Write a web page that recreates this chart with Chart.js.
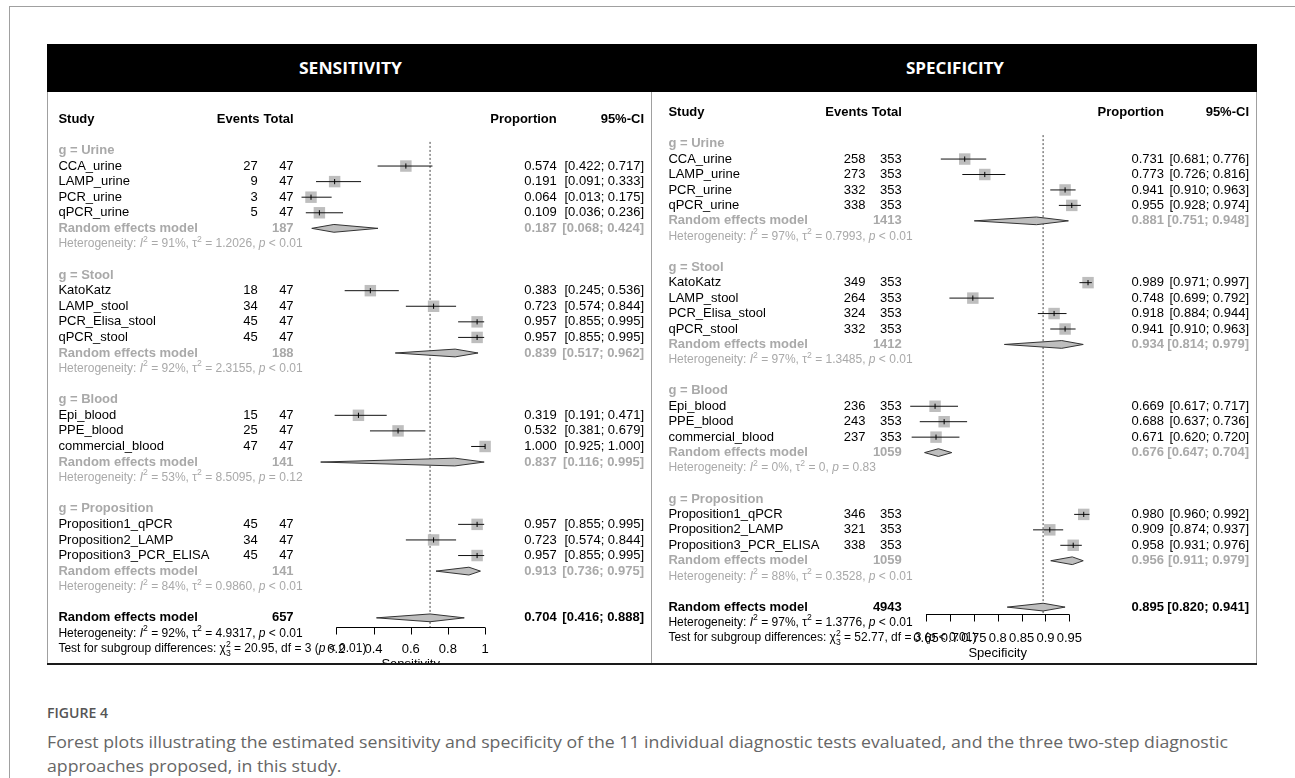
<!DOCTYPE html>
<html>
<head>
<meta charset="utf-8">
<title>Figure 4 - forest plots</title>
<script src="https://cdn.jsdelivr.net/npm/chart.js@4.4.1/dist/chart.umd.min.js"></script>
<style>
  body { margin: 0; background: #fff; }
  #page { position: relative; width: 1295px; height: 778px; overflow: hidden; }
  .rule { position: absolute; background: #a0a0a0; }
  #bar { position: absolute; left: 47px; top: 44px; width: 1210px; height: 48px; background: #000; }
  .head { position: absolute; top: 0; font: bold 16px "Open Sans"; line-height: 48px; color: #fff; white-space: nowrap; transform-origin: left center; }
  canvas { position: absolute; top: 92px; }
  .cap { position: absolute; left: 47px; white-space: nowrap; color: #666; font: 17px "Open Sans"; transform-origin: left top; }
</style>
</head>
<body>
<div id="page">
  <div class="rule" style="left:9px;top:6px;width:1286px;height:1px"></div>
  <div class="rule" style="left:9px;top:6px;width:1px;height:772px"></div>
  <div id="bar"><span class="head" id="h1">SENSITIVITY</span><span class="head" id="h2">SPECIFICITY</span></div>
  <canvas id="sens" width="604" height="572" style="left:47px"></canvas>
  <canvas id="spec" width="606" height="572" style="left:651px"></canvas>
  <div class="rule" style="left:47px;top:92px;width:1px;height:572px"></div>
  <div class="rule" style="left:651px;top:92px;width:1px;height:572px"></div>
  <div class="rule" style="left:1256px;top:92px;width:1px;height:572px"></div>
  <div class="rule" style="left:47px;top:663px;width:1210px;height:2px;background:#1a1a1a"></div>
  <div class="cap" id="figlabel" style="top:703px;font-size:14px;font-weight:600;color:#555">FIGURE 4</div>
  <div class="cap" id="cap1" style="top:730px">Forest plots illustrating the estimated sensitivity and specificity of the 11 individual diagnostic tests evaluated, and the three two-step diagnostic</div>
  <div class="cap" id="cap2" style="top:754px">approaches proposed, in this study.</div>
</div>

<script>
// ---- data ----
const groupNames = ['Urine', 'Stool', 'Blood', 'Proposition'];
const studyNames = [
  ['CCA_urine', 'LAMP_urine', 'PCR_urine', 'qPCR_urine'],
  ['KatoKatz', 'LAMP_stool', 'PCR_Elisa_stool', 'qPCR_stool'],
  ['Epi_blood', 'PPE_blood', 'commercial_blood'],
  ['Proposition1_qPCR', 'Proposition2_LAMP', 'Proposition3_PCR_ELISA']
];

// sensitivity
const sensEvents = [[27, 9, 3, 5], [18, 34, 45, 45], [15, 25, 47], [45, 34, 45]];
const sensTotals = [[47, 47, 47, 47], [47, 47, 47, 47], [47, 47, 47], [47, 47, 47]];
const sensProp = [[0.574, 0.191, 0.064, 0.109], [0.383, 0.723, 0.957, 0.957], [0.319, 0.532, 1.000], [0.957, 0.723, 0.957]];
const sensLower = [[0.422, 0.091, 0.013, 0.036], [0.245, 0.574, 0.855, 0.855], [0.191, 0.381, 0.925], [0.855, 0.574, 0.855]];
const sensUpper = [[0.717, 0.333, 0.175, 0.236], [0.536, 0.844, 0.995, 0.995], [0.471, 0.679, 1.000], [0.995, 0.844, 0.995]];
const sensGroupN = [187, 188, 141, 141];
const sensGroupProp = [0.187, 0.839, 0.837, 0.913];
const sensGroupLower = [0.068, 0.517, 0.116, 0.736];
const sensGroupUpper = [0.424, 0.962, 0.995, 0.975];
const sensGroupI2 = ['91%', '92%', '53%', '84%'];
const sensGroupTau2 = ['1.2026', '2.3155', '8.5095', '0.9860'];
const sensGroupP = ['< 0.01', '< 0.01', '= 0.12', '< 0.01'];
const sensOverall = [0.704, 0.416, 0.888];
const sensOverallN = 657;
const sensOverallHet = ['92%', '4.9317', '< 0.01'];
const sensTest = ['20.95', '3', '< 0.01'];
const sensTicks = [0.2, 0.4, 0.6, 0.8, 1];

// specificity
const specEvents = [[258, 273, 332, 338], [349, 264, 324, 332], [236, 243, 237], [346, 321, 338]];
const specTotals = [[353, 353, 353, 353], [353, 353, 353, 353], [353, 353, 353], [353, 353, 353]];
const specProp = [[0.731, 0.773, 0.941, 0.955], [0.989, 0.748, 0.918, 0.941], [0.669, 0.688, 0.671], [0.980, 0.909, 0.958]];
const specLower = [[0.681, 0.726, 0.910, 0.928], [0.971, 0.699, 0.884, 0.910], [0.617, 0.637, 0.620], [0.960, 0.874, 0.931]];
const specUpper = [[0.776, 0.816, 0.963, 0.974], [0.997, 0.792, 0.944, 0.963], [0.717, 0.736, 0.720], [0.992, 0.937, 0.976]];
const specGroupN = [1413, 1412, 1059, 1059];
const specGroupProp = [0.881, 0.934, 0.676, 0.956];
const specGroupLower = [0.751, 0.814, 0.647, 0.911];
const specGroupUpper = [0.948, 0.979, 0.704, 0.979];
const specGroupI2 = ['97%', '97%', '0%', '88%'];
const specGroupTau2 = ['0.7993', '1.3485', '0', '0.3528'];
const specGroupP = ['< 0.01', '< 0.01', '= 0.83', '< 0.01'];
const specOverall = [0.895, 0.820, 0.941];
const specOverallN = 4943;
const specOverallHet = ['97%', '1.3776', '< 0.01'];
const specTest = ['52.77', '3', '< 0.01'];
const specTicks = [0.65, 0.7, 0.75, 0.8, 0.85, 0.9, 0.95];

// ---- drawing ----
const GRAY = '#a9a9a9';
const FONT = '"Liberation Sans", Arial, sans-serif';

function fmt(v) { return v.toFixed(3); }
function ciText(lo, hi) { return '[' + fmt(lo) + '; ' + fmt(hi) + ']'; }

function drawRich(ctx, x, y, parts, size, color) {
  ctx.fillStyle = color;
  ctx.textAlign = 'left';
  ctx.textBaseline = 'middle';
  parts.forEach(([txt, mode]) => {
    if (mode === 'supsub') {
      ctx.font = (size * 0.72) + 'px ' + FONT;
      ctx.fillText(txt[0], x, y - size * 0.38);
      ctx.fillText(txt[1], x, y + size * 0.36);
      x += Math.max(ctx.measureText(txt[0]).width, ctx.measureText(txt[1]).width);
      return;
    }
    let font = size + 'px ' + FONT, dy = 0;
    if (mode === 'i') font = 'italic ' + font;
    if (mode === 'sup') { font = (size * 0.72) + 'px ' + FONT; dy = -size * 0.38; }
    ctx.font = font;
    ctx.fillText(txt, x, y + dy);
    x += ctx.measureText(txt).width;
  });
}

function hetParts(h) {
  return [['Heterogeneity: ', ''], ['I', 'i'], ['2', 'sup'], [' = ' + h[0] + ', ', ''],
          ['\u03c4', ''], ['2', 'sup'], [' = ' + h[1] + ', ', ''], ['p', 'i'], [' ' + h[2], '']];
}

function forestPanel(canvasId, d, lay) {
  const rows = [];
  const boxes = [];
  const ciLines = [];
  const diamonds = [];
  let k = 2;
  groupNames.forEach((g, gi) => {
    rows.push({ k: k++, type: 'group', label: 'g = ' + g });
    studyNames[gi].forEach((name, si) => {
      const est = d.prop[gi][si], lo = d.lower[gi][si], hi = d.upper[gi][si];
      rows.push({ k, type: 'study', label: name, ev: d.events[gi][si], n: d.totals[gi][si], est, lo, hi });
      boxes.push({ x: est, y: k });
      ciLines.push([{ x: lo, y: k }, { x: hi, y: k }]);
      k++;
    });
    const est = d.groupProp[gi], lo = d.groupLower[gi], hi = d.groupUpper[gi];
    rows.push({ k, type: 'pooled', n: d.groupN[gi], est, lo, hi });
    diamonds.push({ k, est, lo, hi });
    k++;
    rows.push({ k: k++, type: 'het', het: [d.groupI2[gi], d.groupTau2[gi], d.groupP[gi]] });
    k++;
  });
  const overallRow = k;
  const [oEst, oLo, oHi] = d.overall;
  rows.push({ k, type: 'overall', n: d.overallN, est: oEst, lo: oLo, hi: oHi });
  diamonds.push({ k, est: oEst, lo: oLo, hi: oHi });
  rows.push({ k: k + 1, type: 'overallHet', het: d.overallHet });
  rows.push({ k: k + 2, type: 'test', test: d.test });

  const datasets = [];
  // first datasets are drawn on top
  datasets.push({ data: boxes, showLine: false, pointStyle: 'line', pointRotation: 90,
                  pointRadius: 2.6, pointBorderColor: '#000', pointBorderWidth: 1 });
  ciLines.forEach(l => datasets.push({ data: l, borderColor: '#111', borderWidth: 1 }));
  datasets.push({ data: boxes, showLine: false, pointStyle: 'rect', pointRadius: 8.1,
                  pointBackgroundColor: '#bebebe', pointBorderWidth: 0 });
  diamonds.forEach(m => datasets.push({
    data: [{ x: m.lo, y: m.k }, { x: m.est, y: m.k - 0.25 }, { x: m.hi, y: m.k },
           { x: m.est, y: m.k + 0.25 }, { x: m.lo, y: m.k }],
    borderColor: '#333', borderWidth: 1, backgroundColor: '#bebebe', fill: 'shape'
  }));
  datasets.push({ data: [{ x: oEst, y: 1.45 }, { x: oEst, y: lay.axisRow }],
                  borderColor: '#444', borderWidth: 1, borderDash: [2, 2] });

  const c = lay.cols;
  const textPlugin = {
    id: 'forestText',
    afterDraw(chart) {
      const ctx = chart.ctx, xs = chart.scales.x, ys = chart.scales.y;
      const put = (txt, x, kk, align, font, color) => {
        ctx.font = font + ' ' + FONT;
        ctx.fillStyle = color;
        ctx.textAlign = align;
        ctx.textBaseline = 'middle';
        ctx.fillText(txt, x, ys.getPixelForValue(kk));
      };
      ctx.save();
      put('Study', c.study, 0, 'left', 'bold 13px', '#000');
      put('Events', c.evHead, 0, 'right', 'bold 13px', '#000');
      put('Total', c.total, 0, 'right', 'bold 13px', '#000');
      put('Proportion', c.prop, 0, 'right', 'bold 13px', '#000');
      put('95%-CI', c.ci, 0, 'right', 'bold 13px', '#000');
      rows.forEach(r => {
        if (r.type === 'group') put(r.label, c.study, r.k, 'left', 'bold 13px', GRAY);
        if (r.type === 'study') {
          put(r.label, c.study, r.k, 'left', '13px', '#000');
          put(String(r.ev), c.ev, r.k, 'right', '13px', '#000');
          put(String(r.n), c.total, r.k, 'right', '13px', '#000');
          put(fmt(r.est), c.prop, r.k, 'right', '13px', '#000');
          put(ciText(r.lo, r.hi), c.ci, r.k, 'right', '13px', '#000');
        }
        if (r.type === 'pooled' || r.type === 'overall') {
          const col = r.type === 'pooled' ? GRAY : '#000';
          put('Random effects model', c.study, r.k, 'left', 'bold 13px', col);
          put(String(r.n), c.total, r.k, 'right', 'bold 13px', col);
          put(fmt(r.est), c.prop, r.k, 'right', 'bold 13px', col);
          put(ciText(r.lo, r.hi), c.ci, r.k, 'right', 'bold 13px', col);
        }
        if (r.type === 'het') drawRich(ctx, c.study, ys.getPixelForValue(r.k), hetParts(r.het), 12, GRAY);
        if (r.type === 'overallHet') drawRich(ctx, c.study, ys.getPixelForValue(r.k), hetParts(r.het), 12, '#000');
        if (r.type === 'test') {
          drawRich(ctx, c.study, ys.getPixelForValue(r.k), [
            ['Test for subgroup differences: ', ''], ['\u03c7', ''], [['2', '3'], 'supsub'],
            [' = ' + r.test[0] + ', df = ' + r.test[1] + ' (', ''], ['p', 'i'], [' ' + r.test[2] + ')', '']
          ], 12, '#000');
        }
      });
      // x axis
      const ay = Math.round(ys.getPixelForValue(lay.axisRow)) + 0.5;
      const x0 = xs.getPixelForValue(d.ticks[0]);
      const x1 = xs.getPixelForValue(d.ticks[d.ticks.length - 1]);
      ctx.strokeStyle = '#000';
      ctx.lineWidth = 1;
      ctx.setLineDash([]);
      ctx.beginPath();
      ctx.moveTo(x0, ay);
      ctx.lineTo(x1, ay);
      d.ticks.forEach(t => {
        const px = Math.round(xs.getPixelForValue(t)) + 0.5;
        ctx.moveTo(px, ay);
        ctx.lineTo(px, ay + 7);
      });
      ctx.stroke();
      d.ticks.forEach(t => put(String(t), xs.getPixelForValue(t), overallRow + 2, 'center', '13px', '#000'));
      put(d.title, (x0 + x1) / 2, overallRow + 3, 'center', '13px', '#000');
      ctx.restore();
    }
  };

  return new Chart(document.getElementById(canvasId), {
    type: 'line',
    data: { datasets },
    options: {
      responsive: false,
      animation: false,
      devicePixelRatio: 1,
      layout: { padding: 0, autoPadding: false },
      elements: { point: { radius: 0, hoverRadius: 0 }, line: { tension: 0 } },
      plugins: { legend: { display: false }, tooltip: { enabled: false } },
      events: [],
      scales: {
        x: { type: 'linear', display: false, min: lay.xMin, max: lay.xMax },
        y: { type: 'linear', display: false, reverse: true, min: lay.yMin, max: lay.yMax }
      }
    },
    plugins: [textPlugin]
  });
}

forestPanel('sens', {
  events: sensEvents, totals: sensTotals, prop: sensProp, lower: sensLower, upper: sensUpper,
  groupN: sensGroupN, groupProp: sensGroupProp, groupLower: sensGroupLower, groupUpper: sensGroupUpper,
  groupI2: sensGroupI2, groupTau2: sensGroupTau2, groupP: sensGroupP,
  overall: sensOverall, overallN: sensOverallN, overallHet: sensOverallHet, test: sensTest,
  ticks: sensTicks, title: 'Sensitivity'
}, {
  xMin: -1.3554, xMax: 1.8919, yMin: -1.752, yMax: 34.962, axisRow: 32.6,
  cols: { study: 11.4, evHead: 212.5, ev: 210.8, total: 246.6, prop: 509.7, ci: 597 }
});

forestPanel('spec', {
  events: specEvents, totals: specTotals, prop: specProp, lower: specLower, upper: specUpper,
  groupN: specGroupN, groupProp: specGroupProp, groupLower: specGroupLower, groupUpper: specGroupUpper,
  groupI2: specGroupI2, groupTau2: specGroupTau2, groupP: specGroupP,
  overall: specOverall, overallN: specOverallN, overallHet: specOverallHet, test: specTest,
  ticks: specTicks, title: 'Specificity'
}, {
  xMin: 0.0747, xMax: 1.3425, yMin: -1.340, yMax: 35.683, axisRow: 32.47,
  cols: { study: 17.4, evHead: 217, ev: 214.5, total: 250.8, prop: 513, ci: 598 }
});

// squeeze header and caption text to the reference widths
function fit(id, width, left) {
  const el = document.getElementById(id);
  const w = el.getBoundingClientRect().width;
  const s = width / w;
  el.style.transform = 'scaleX(' + s + ')';
  if (left !== undefined) el.style.left = left + 'px';
  return s;
}
fit('h1', 103, 350 - 51.5 - 47);
fit('h2', 98, 955 - 49 - 47);
const capScale = fit('cap1', 1181);
document.getElementById('cap2').style.transform = 'scaleX(' + capScale + ')';
fit('figlabel', 61);
</script>
</body>
</html>
